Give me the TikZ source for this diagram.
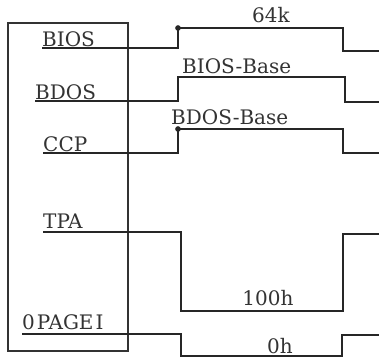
\documentclass[tikz,border=0pt]{standalone}
\usepackage{fontspec}
\newfontfamily\memfont{DejaVu Serif}
\usetikzlibrary{positioning}
\tikzset{
  memlbl/.style={font=\memfont\fontsize{20}{22}\selectfont,inner sep=0pt,
    anchor=base west,text=black!80},
  addrlbl/.style={memlbl,anchor=base},
  membox/.style={draw=black!80,line width=1.3pt},
  wire/.style={line width=2.2pt,black!85},
  wdot/.style={circle,fill=black!85,inner sep=2pt},
}

\begin{document}
\begin{tikzpicture}[x=1pt,y=-1pt]
  \useasboundingbox (0,0) rectangle (379,357);
  \draw[membox] (8,23) rectangle (128,351);
  % segment names
  \node[memlbl] (bios) at (42,46) {BIOS};
  \node[memlbl] (bdos) at (35,99) {BDOS};
  \node[memlbl] (ccp) at (43,151) {CCP};
  \node[memlbl] (tpa) at (43,228) {TPA};
  \node[memlbl] (page) at (22,329) {0\hspace{2pt}PAGE\hspace{2pt}I};
  % addresses
  \node[addrlbl] (top) at (271,22) {64k};
  \node[memlbl] (biosbase) at (182,73) {BIOS-Base};
  \node[memlbl] (bdosbase) at (171,124) {BDOS-Base};
  \node[addrlbl] (tpabase) at (268,305) {100h};
  \node[addrlbl] (zero) at (280,353) {0h};
  % corners of the address lines
  \coordinate (b1) at (178,48);  \coordinate (b2) at (178,28);
  \coordinate (b3) at (343,28);  \coordinate (b4) at (343,51);
  \coordinate (b5) at (379,51);
  \coordinate (d1) at (178,101); \coordinate (d2) at (178,77);
  \coordinate (d3) at (345,77);  \coordinate (d4) at (345,102);
  \coordinate (d5) at (379,102);
  \coordinate (c1) at (178,153); \coordinate (c2) at (178,129);
  \coordinate (c3) at (343,129); \coordinate (c4) at (343,153);
  \coordinate (c5) at (379,153);
  \coordinate (t1) at (181,232); \coordinate (t2) at (181,311);
  \coordinate (t3) at (343,311); \coordinate (t4) at (343,234);
  \coordinate (t5) at (379,234);
  \coordinate (p1) at (181,334); \coordinate (p2) at (181,356);
  \coordinate (p3) at (342,356); \coordinate (p4) at (342,335);
  \coordinate (p5) at (379,335);
  \draw[wire] (bios.west |- b1) -- (b1) -- (b2) -- (b3) -- (b4) -- (b5);
  \draw[wire] (bdos.west |- d1) -- (d1) -- (d2) -- (d3) -- (d4) -- (d5);
  \draw[wire] (ccp.west |- c1) -- (c1) -- (c2) -- (c3) -- (c4) -- (c5);
  \draw[wire] (tpa.west |- t1) -- (t1) -- (t2) -- (t3) -- (t4) -- (t5);
  \draw[wire] (page.west |- p1) -- (p1) -- (p2) -- (p3) -- (p4) -- (p5);
  \node[wdot] at (b2) {};
  \node[wdot] at (c2) {};
\end{tikzpicture}
\end{document}
